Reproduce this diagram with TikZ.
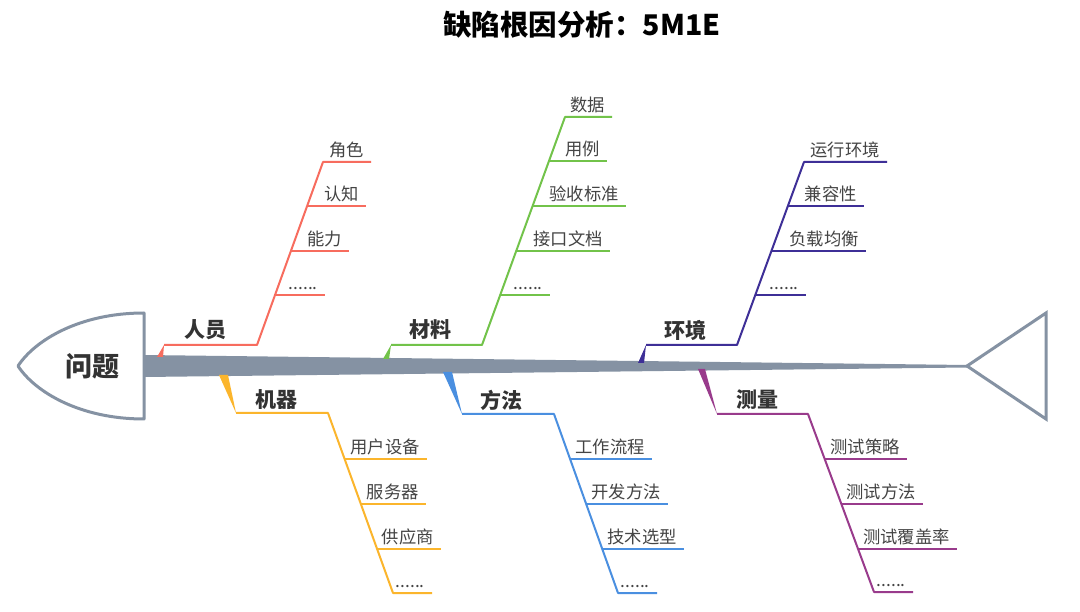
\documentclass[tikz,border=0pt]{standalone}
\usepackage{fontspec}
\setmainfont{Noto Sans CJK SC}
\definecolor{spinec}{HTML}{8592A3}
\definecolor{cred}{HTML}{F76C5E}
\definecolor{cgreen}{HTML}{72C34A}
\definecolor{cpurple}{HTML}{3E2F97}
\definecolor{corange}{HTML}{FBB52C}
\definecolor{cblue}{HTML}{4A8FE0}
\definecolor{cmag}{HTML}{993B8C}
\definecolor{txt}{HTML}{444444}
\definecolor{cattxt}{HTML}{333333}
\tikzset{
  leaf/.style={line width=2pt},
  bone/.style={line width=2pt, line join=round},
  leaftext/.style={inner sep=0pt, text=txt, font=\fontsize{17.3}{17.3}\selectfont},
  cattext/.style={inner sep=0pt, text=cattxt, font=\fontsize{21}{21}\selectfont\bfseries, anchor=base},
}
\newcommand\fbleaf[6]{%
  \draw[leaf, #2] (#3,#5) -- (#4,#5);
  \node[leaftext, anchor=base east] (#1) at ({#4-7},{#5-5.5}) {#6};
}
\begin{document}
\begin{tikzpicture}[x=1pt,y=-1pt]
\useasboundingbox (0,0) rectangle (1080,612);
\fill[white] (0,0) rectangle (1080,612);

% title
\node[inner sep=0pt, anchor=base, font=\fontsize{28.5}{28.5}\selectfont\bfseries] (title) at (582,36) {缺陷根因分析：5M1E};

% head
\draw[spinec, line width=3pt, fill=white, line join=round] (144,313) .. controls (80,313) and (35,340) .. (18,366) .. controls (35,392) and (80,419) .. (144,419) -- cycle;
\node[inner sep=0pt, anchor=base, text=cattxt, font=\fontsize{27}{27}\selectfont\bfseries] (head) at (92,377) {问题};

% spine
\fill[spinec] (144,355) -- (967,365) -- (967,367.5) -- (144,377) -- cycle;
% tail
\draw[spinec, line width=3pt, line join=miter] (967,366) -- (1046,313) -- (1046,419) -- cycle;

% ===== 人员 =====
\fill[cred] (157,357) -- (163,357) -- (164,345) -- cycle;
\draw[bone, cred] (164,345) -- (257,345) -- (323,162) -- (371,162);
\node[leaftext, anchor=base east] (r1) at (364,156.5) {角色};
\fbleaf{r2}{cred}{307.1}{366}{206}{认知}
\fbleaf{r3}{cred}{290.9}{349}{251}{能力}
\fbleaf{r4}{cred}{275.0}{325}{295}{......}
\node[cattext] (cat1) at (205,338) {人员};

% ===== 材料 =====
\fill[cgreen] (383,359) -- (389,359) -- (391,345) -- cycle;
\draw[bone, cgreen] (391,345) -- (482,345) -- (565,117) -- (612,117);
\node[leaftext, anchor=base east] (g1) at (605,111.5) {数据};
\fbleaf{g2}{cgreen}{549.0}{607}{161}{用例}
\fbleaf{g3}{cgreen}{532.6}{626}{206}{验收标准}
\fbleaf{g4}{cgreen}{516.2}{610}{251}{接口文档}
\fbleaf{g5}{cgreen}{500.2}{550}{295}{......}
\node[cattext] (cat2) at (430,338) {材料};

% ===== 环境 =====
\fill[cpurple] (638,363) -- (644,363) -- (646,345) -- cycle;
\draw[bone, cpurple] (646,345) -- (737,345) -- (804,162) -- (887,162);
\node[leaftext, anchor=base east] (p1) at (880,156.5) {运行环境};
\fbleaf{p2}{cpurple}{787.9}{864}{206}{兼容性}
\fbleaf{p3}{cpurple}{771.4}{866}{251}{负载均衡}
\fbleaf{p4}{cpurple}{755.3}{806}{295}{......}
\node[cattext] (cat3) at (685,339) {环境};

% ===== 机器 =====
\fill[corange] (219,375) -- (228,375) -- (236,413) -- cycle;
\draw[bone, corange] (236,413) -- (328,413) -- (393,593) -- (432,593);
\fbleaf{o1}{corange}{344.6}{427}{459}{用户设备}
\fbleaf{o2}{corange}{360.9}{426}{504}{服务器}
\fbleaf{o3}{corange}{377.1}{441}{549}{供应商}
\node[leaftext, anchor=base east] (o4) at (425,587.5) {......};
\node[cattext] (cat4) at (276,408) {机器};

% ===== 方法 =====
\fill[cblue] (443,372) -- (452,372) -- (462,414) -- cycle;
\draw[bone, cblue] (462,414) -- (554,414) -- (618,593) -- (657,593);
\fbleaf{b1}{cblue}{570.1}{652}{459}{工作流程}
\fbleaf{b2}{cblue}{586.2}{668}{504}{开发方法}
\fbleaf{b3}{cblue}{602.3}{684}{549}{技术选型}
\node[leaftext, anchor=base east] (b4) at (650,587.5) {......};
\node[cattext] (cat5) at (501,409) {方法};

% ===== 测量 =====
\fill[cmag] (698,369) -- (705,369) -- (717,414) -- cycle;
\draw[bone, cmag] (717,414) -- (808,414) -- (874,592) -- (913,592);
\fbleaf{m1}{cmag}{824.7}{907}{459}{测试策略}
\fbleaf{m2}{cmag}{841.4}{923}{504}{测试方法}
\fbleaf{m3}{cmag}{858.1}{957}{549}{测试覆盖率}
\node[leaftext, anchor=base east] (m4) at (906,586.5) {......};
\node[cattext] (cat6) at (757,408) {测量};
\end{tikzpicture}
\end{document}
